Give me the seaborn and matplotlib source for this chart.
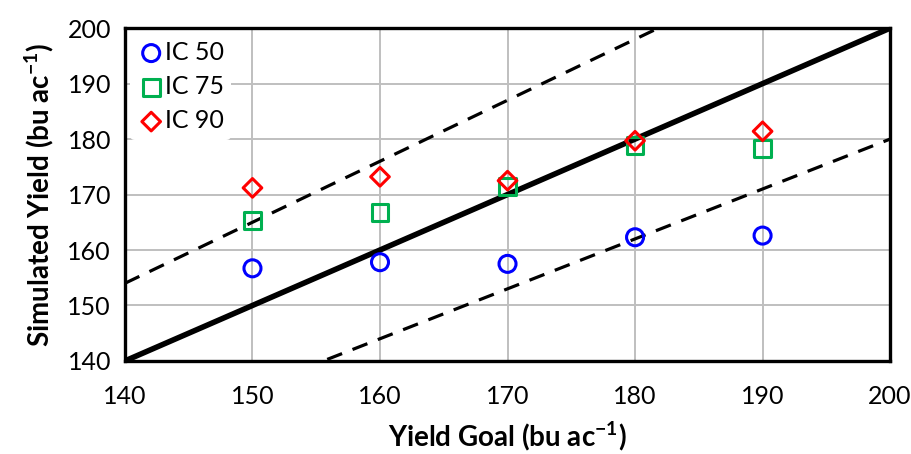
import numpy as np
import matplotlib
matplotlib.use("Agg")
import matplotlib.pyplot as plt
import seaborn as sns

# Yield goals and simulated yields for each IC level
yield_goal = [150, 160, 170, 180, 190]
ic50 = [156.7, 157.8, 157.5, 162.3, 162.6]
ic75 = [165.3, 166.7, 171.5, 178.8, 178.3]
ic90 = [171.2, 173.2, 172.5, 179.7, 181.4]

series_labels = ["IC 50", "IC 75", "IC 90"]
series_colors = ["#0000FF", "#00B050", "#FF0000"]
series_markers = ["o", "s", "D"]
series_sizes = [150, 145, 90]

# Reference lines: 1:1 and +/-10 %
ref_x = np.array([140.0, 200.0])
ratio_mid = 1.0
ratio_band = [1.1, 0.9]

ticks = [140, 150, 160, 170, 180, 190, 200]

sns.set_theme(style="white")
plt.rcParams["font.family"] = ["Lato", "DejaVu Sans"]
plt.rcParams["mathtext.fontset"] = "custom"
plt.rcParams["mathtext.rm"] = "Lato"
plt.rcParams["mathtext.bf"] = "Lato:bold"
plt.rcParams["text.color"] = "black"
plt.rcParams["axes.labelcolor"] = "black"

fig = plt.figure(figsize=(9.12, 4.54), dpi=100)
ax = fig.add_axes([0.137, 0.205, 0.839, 0.733])

ax.set_xlim(140, 200)
ax.set_ylim(140, 200)
ax.set_xticks(ticks)
ax.set_yticks(ticks)
ax.grid(True, color="#bfbfbf", linewidth=1.4, zorder=0)
ax.set_axisbelow(True)

sns.lineplot(x=ref_x, y=ref_x * ratio_mid, ax=ax, color="black", linewidth=4.0, zorder=2)
for r in ratio_band:
    sns.lineplot(x=ref_x, y=ref_x * r, ax=ax, color="black", linewidth=2.3,
                 zorder=2).lines[-1].set_dashes([5, 3.5])

for vals, lab, col, mk, sz in zip([ic50, ic75, ic90], series_labels, series_colors,
                                  series_markers, series_sizes):
    sns.scatterplot(x=yield_goal, y=vals, ax=ax, marker=mk, s=sz, facecolor="none",
                    edgecolor=col, linewidth=2.2, label=lab, zorder=3)

leg = ax.legend(loc="upper left", bbox_to_anchor=(0.0, 1.0), frameon=True,
                fontsize=18, handletextpad=0.0, labelspacing=0.45,
                borderpad=0.3, handlelength=1.1, borderaxespad=0.2)
leg.get_frame().set_facecolor("white")
leg.get_frame().set_edgecolor("none")
leg.get_frame().set_alpha(1)

for sp in ax.spines.values():
    sp.set_visible(True)
    sp.set_color("black")
    sp.set_linewidth(2.4)

ax.tick_params(axis="y", which="both", labelsize=18, length=0, pad=10, colors="black")
ax.tick_params(axis="x", which="both", labelsize=18, length=0, pad=17, colors="black")

ax.set_xlabel(r"Yield Goal (bu ac$^{\mathbf{-1}}$)", fontsize=20, fontweight="bold",
              labelpad=8)
ax.set_ylabel(r"Simulated Yield (bu ac$^{\mathbf{-1}}$)", fontsize=20, fontweight="bold",
              labelpad=8)

fig.savefig("out.png", dpi=100)
